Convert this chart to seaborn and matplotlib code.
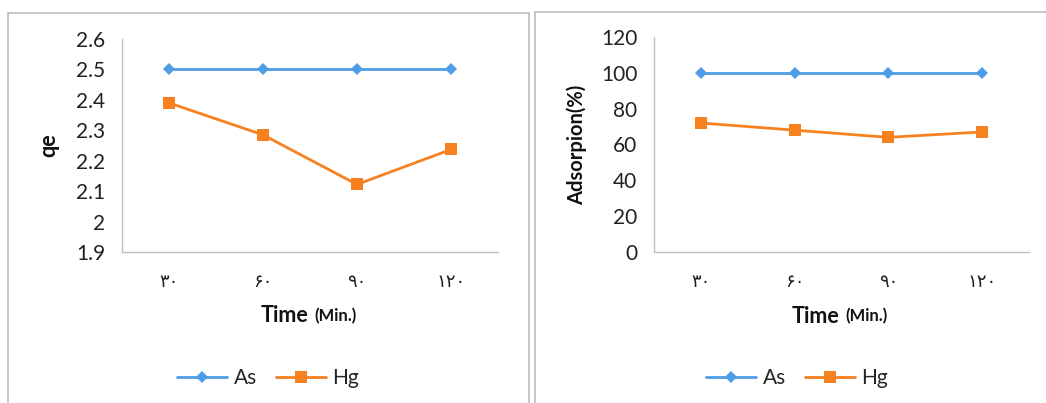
import matplotlib
matplotlib.use("Agg")
import matplotlib.pyplot as plt
import matplotlib.transforms as mtransforms
from matplotlib.patches import Rectangle
from matplotlib.lines import Line2D
import seaborn as sns
import pandas as pd

# ---- data ----
time_labels = ["۳۰", "۶۰", "۹۰", "۱۲۰"]
as_qe = [2.5, 2.5, 2.5, 2.5]
hg_qe = [2.39, 2.285, 2.122, 2.237]
as_ads = [100, 100, 100, 100]
hg_ads = [72, 68, 64, 67]
qe_ticks = [1.9, 2.0, 2.1, 2.2, 2.3, 2.4, 2.5, 2.6]
qe_ticklabels = ["1.9", "2", "2.1", "2.2", "2.3", "2.4", "2.5", "2.6"]
ads_ticks = [0, 20, 40, 60, 80, 100, 120]

sns.set_theme(style="white")
plt.rcParams["font.family"] = ["Lato", "DejaVu Sans"]

BLUE = "#4E9DE6"
ORANGE = "#F7811F"
SPINE = "#BFBFBF"

W, H = 1046, 403
fig = plt.figure(figsize=(W / 100, H / 100), dpi=100)

# panel borders
fig.patches.append(Rectangle((8 / W, -0.05), (529 - 8) / W, 1.05 - 13 / H,
                             transform=fig.transFigure, fill=False,
                             edgecolor="#BDBDBD", linewidth=1.2))
fig.patches.append(Rectangle((535 / W, -0.05), (1060 - 535) / W, 1.05 - 12 / H,
                             transform=fig.transFigure, fill=False,
                             edgecolor="#BDBDBD", linewidth=1.2))

ax1 = fig.add_axes([122 / W, 1 - 252 / H, 376 / W, (252 - 39) / H])
ax2 = fig.add_axes([654 / W, 1 - 252 / H, 375 / W, (252 - 37) / H])


def draw(ax, as_vals, hg_vals):
    idx = list(range(len(time_labels)))
    df = pd.DataFrame({"x": idx * 2,
                       "y": list(as_vals) + list(hg_vals),
                       "metal": ["As"] * len(idx) + ["Hg"] * len(idx)})
    sns.lineplot(data=df, x="x", y="y", hue="metal", style="metal",
                 palette={"As": BLUE, "Hg": ORANGE},
                 markers={"As": "D", "Hg": "s"}, dashes=False,
                 linewidth=2.0, legend=False, ax=ax,
                 markeredgewidth=0)
    for line in ax.lines:
        if line.get_marker() == "D":
            line.set_markersize(6.5)
        elif line.get_marker() == "s":
            line.set_markersize(8.5)
    ax.set_xlim(-0.5, len(idx) - 0.5)
    ax.set_xticks(idx)
    ax.set_xticklabels(time_labels, family=["DejaVu Sans"], fontsize=13,
                       color="#222222")
    ax.tick_params(axis="x", length=0, pad=15)
    ax.tick_params(axis="y", length=0, pad=12, labelsize=15,
                   labelcolor="#222222")
    for s in ["top", "right"]:
        ax.spines[s].set_visible(False)
    for s in ["left", "bottom"]:
        ax.spines[s].set_color(SPINE)
        ax.spines[s].set_linewidth(1.0)
    ax.set_xlabel("")
    ax.grid(False)
    tr_l = mtransforms.offset_copy(ax.transAxes, fig=fig, x=-2, y=0, units="dots")
    tr_r = mtransforms.offset_copy(ax.transAxes, fig=fig, x=4, y=0, units="dots")
    ax.text(0.5, -0.30, "Time", transform=tr_l, ha="right", va="center",
            fontsize=15.5, fontweight="bold", color="#111111")
    ax.text(0.5, -0.30, "(Min.)", transform=tr_r, ha="left", va="center",
            fontsize=12, fontweight="bold", color="#111111")


draw(ax1, as_qe, hg_qe)
ax1.set_ylim(1.9, 2.6)
ax1.set_yticks(qe_ticks)
ax1.set_yticklabels(qe_ticklabels)
ax1.set_ylabel("qe", fontsize=15.5, fontweight="bold", color="#111111", labelpad=12)

draw(ax2, as_ads, hg_ads)
ax2.set_ylim(0, 120)
ax2.set_yticks(ads_ticks)
ax2.set_ylabel("Adsorpion(%)", fontsize=14.5, fontweight="bold", color="#111111",
               labelpad=10)

handles = [Line2D([], [], color=BLUE, marker="D", markersize=6.5, lw=2.0,
                  markeredgewidth=0),
           Line2D([], [], color=ORANGE, marker="s", markersize=8.5, lw=2.0,
                  markeredgewidth=0)]
for cx in (268, 797):
    fig.legend(handles, ["As", "Hg"], loc="center",
               bbox_to_anchor=(cx / W, 1 - 378 / H), ncol=2, frameon=False,
               fontsize=15, handlelength=2.4, handletextpad=0.3,
               columnspacing=0.9)

fig.savefig("out.png", dpi=100, facecolor="white")
